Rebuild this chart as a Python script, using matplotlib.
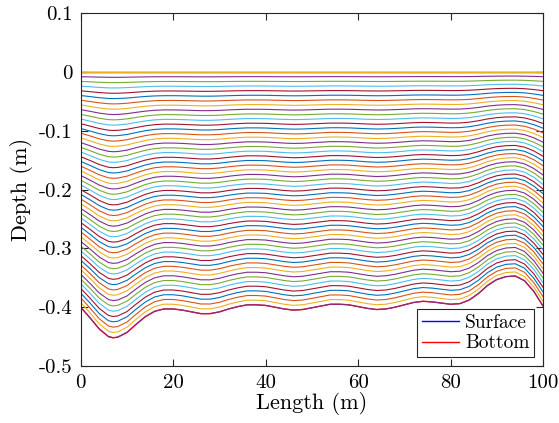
import matplotlib
matplotlib.use("Agg")
import matplotlib.pyplot as plt
import numpy as np

plt.rcParams['font.family'] = ['cmr10', 'DejaVu Serif']
plt.rcParams['axes.unicode_minus'] = False
plt.rcParams['mathtext.fontset'] = 'cm'

# bottom profile (x in m, depth in m)
x_bed = [0, 2, 4, 6, 7, 8, 10, 12, 14, 16, 18, 20, 22, 24, 26, 28, 30, 32, 34,
         36, 38, 40, 42, 44, 46, 48, 50, 52, 54, 56, 58, 60, 62, 64, 66, 68, 70,
         72, 74, 76, 78, 80, 82, 84, 86, 88, 90, 92, 94, 96, 98, 100]
bed = [-0.400, -0.418, -0.437, -0.450, -0.452, -0.451, -0.443, -0.429, -0.416,
       -0.407, -0.403, -0.403, -0.405, -0.408, -0.411, -0.411, -0.408, -0.403,
       -0.399, -0.396, -0.396, -0.397, -0.400, -0.403, -0.405, -0.404, -0.401,
       -0.398, -0.395, -0.395, -0.396, -0.399, -0.402, -0.404, -0.403, -0.400,
       -0.396, -0.392, -0.390, -0.391, -0.393, -0.395, -0.394, -0.388, -0.377,
       -0.363, -0.353, -0.348, -0.347, -0.355, -0.373, -0.398]
surface = [0.0] * len(x_bed)

# sigma levels from surface (0) to bottom (1)
n_layers = 51
sigma = np.linspace(0, 1, n_layers)

yticks = [-0.5, -0.4, -0.3, -0.2, -0.1, 0, 0.1]
ytick_labels = ['-0.5', '-0.4', '-0.3', '-0.2', '-0.1', '0', '0.1']
xticks = [0, 20, 40, 60, 80, 100]

matlab_colors = ['#0072BD', '#D95319', '#EDB120', '#7E2F8E',
                 '#77AC30', '#4DBEEE', '#A2142F']

x = np.array(x_bed)
h = np.array(bed)
eta = np.array(surface)

fig = plt.figure(figsize=(5.59, 4.23), dpi=100)
ax = fig.add_axes([0.1444, 0.1348, 0.827, 0.834])

surf_line, = ax.plot(x, eta, color='b', lw=1.0)
bed_line, = ax.plot(x, h, color='r', lw=1.0)

# layers: colour order continues after the two lines above
for k, s in enumerate(sigma):
    z = eta + s * (h - eta)
    ax.plot(x, z, color=matlab_colors[(k + 2) % 7], lw=0.8)

ax.set_xlim(0, 100)
ax.set_ylim(-0.5, 0.1)
ax.set_xticks(xticks)
ax.set_xticklabels([str(v) for v in xticks])
ax.set_yticks(yticks)
ax.set_yticklabels(ytick_labels)
ax.tick_params(direction='in', top=True, right=True, length=5, width=0.8,
               labelsize=15, color='#262626', pad=6)
for sp in ax.spines.values():
    sp.set_color('#262626')
    sp.set_linewidth(0.8)

ax.set_xlabel('Length (m)', fontsize=16, labelpad=0)
ax.set_ylabel('Depth (m)', fontsize=16, labelpad=4)

leg = ax.legend([surf_line, bed_line], ['Surface', 'Bottom'], loc='lower right',
                fontsize=14, fancybox=False, edgecolor='#262626', framealpha=1,
                borderpad=0.25, handlelength=1.9, handletextpad=0.3,
                labelspacing=0.15, borderaxespad=0.45)
leg.get_frame().set_linewidth(0.8)

fig.savefig('out.png', dpi=100)
